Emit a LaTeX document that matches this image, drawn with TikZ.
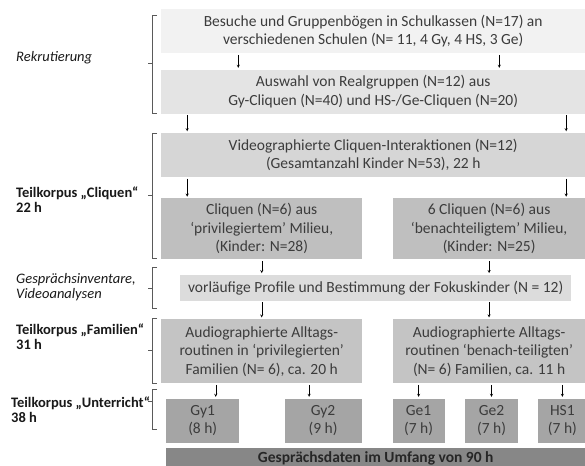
\documentclass[tikz,border=0pt]{standalone}
\usepackage{fontspec}
\setmainfont{Carlito}
\usepackage{tikz}
\usetikzlibrary{arrows, positioning, calc}
\definecolor{shadeA}{RGB}{242, 242, 242}
\definecolor{shadeB}{RGB}{228, 228, 228}
\definecolor{shadeC}{RGB}{214, 214, 214}
\definecolor{shadeD}{RGB}{191, 191, 191}
\definecolor{shadeE}{RGB}{220, 220, 220}
\definecolor{shadeF}{RGB}{196, 196, 196}
\definecolor{shadeG}{RGB}{165, 165, 165}
\definecolor{shadeH}{RGB}{135, 135, 135}
\definecolor{textgray}{RGB}{60, 60, 60}
\definecolor{bracegray}{RGB}{90, 90, 90}

\begin{document}
\begin{tikzpicture}[
        x=1pt, y=1pt,
        box/.style={rectangle, draw=none, inner sep=0pt, align=center, text=textgray, font=\fontsize{15.5}{18.5}\selectfont},
        widebox/.style={box, minimum width=424pt, minimum height=44pt},
        halfbox/.style={box, minimum width=201pt, minimum height=61pt},
        smallbox/.style={box, fill=shadeG, minimum height=44pt},
        sidelabel/.style={anchor=west, align=left, inner sep=0pt, text=black!90, font=\fontsize{14.5}{15}\selectfont},
        brace/.style={draw=bracegray, line width=0.8pt},
        arrow/.style={->, >=stealth, thin, shorten <=1.5pt, shorten >=1.5pt}
    ]
        \useasboundingbox (0,0) rectangle (585,465);

        % Rekrutierung
        \node[widebox, fill=shadeA, anchor=north west] (besuche) at (161,456) {Besuche und Gruppenbögen in Schulkassen (N=17) an\\verschiedenen Schulen (N= 11, 4 Gy, 4 HS, 3 Ge)};
        \node[widebox, fill=shadeB, below=16pt of besuche.south west, anchor=north west] (auswahl) {Auswahl von Realgruppen (N=12) aus\\Gy-Cliquen (N=40) und HS-/Ge-Cliquen (N=20)};

        % Cliquen
        \node[widebox, fill=shadeC, below=19pt of auswahl.south west, anchor=north west] (video) {Videographierte Cliquen-Interaktionen (N=12)\\(Gesamtanzahl Kinder N=53), 22 h};
        \node[halfbox, fill=shadeD, below=21pt of video.south west, anchor=north west] (cliq1) {Cliquen (N=6) aus\\‘privilegiertem’ Milieu,\\(Kinder: N=28)};
        \node[halfbox, fill=shadeD, minimum width=193pt, right=30pt of cliq1] (cliq2) {6 Cliquen (N=6) aus\\‘benachteiligtem’ Milieu,\\(Kinder: N=25)};

        % Profile
        \node[box, fill=shadeE, minimum width=391pt, minimum height=26pt, below=15pt of cliq1.south west, anchor=north west, xshift=19pt] (fokus) {vorläufige Profile und Bestimmung der Fokuskinder (N = 12)};

        % Familien
        \node[halfbox, fill=shadeF, minimum height=64pt, anchor=north west] (fam1) at ([yshift=-18pt]fokus.south -| cliq1.west) {Audiographierte Alltags-\\routinen in ‘privilegierten’\\Familien (N= 6), ca. 20 h};
        \node[halfbox, fill=shadeF, minimum height=64pt, minimum width=193pt, right=30pt of fam1] (fam2) {Audiographierte Alltags-\\routinen ‘benach-teiligten’\\(N= 6) Familien, ca. 11 h};

        % Unterricht
        \node[smallbox, minimum width=73pt, below=15pt of fam1.south west, anchor=north west, xshift=5pt] (gy1) {Gy1\\(8 h)};
        \node[smallbox, minimum width=77pt, right=45pt of gy1] (gy2) {Gy2\\(9 h)};
        \node[smallbox, minimum width=52pt, below=15pt of fam2.south west, anchor=north west] (ge1) {Ge1\\(7 h)};
        \node[smallbox, minimum width=53pt, right=20pt of ge1] (ge2) {Ge2\\(7 h)};
        \node[smallbox, minimum width=48pt, right=20pt of ge2] (hs1) {HS1\\(7 h)};
        \node[box, fill=shadeH, text=black!85, minimum width=419pt, minimum height=20pt, below=5pt of gy1.south west, anchor=north west] (gesamt) {\bfseries Gesprächsdaten im Umfang von 90 h};

        % labels left
        \node[sidelabel] (rekr) at (16,407) {\itshape Rekrutierung};
        \node[sidelabel] (tkcliq) at (16,265) {\bfseries Teilkorpus „Cliquen“\\\bfseries 22 h};
        \node[sidelabel] (inventar) at (16,178) {\itshape Gesprächsinventare,\\\itshape Videoanalysen};
        \node[sidelabel] (tkfam) at (16,128) {\bfseries Teilkorpus „Familien“\\\bfseries 31 h};
        \node[sidelabel] (tkunt) at (11,55) {\bfseries Teilkorpus „Unterricht“\\\bfseries 38 h};

        % brackets
        \foreach \top/\bot/\tip in {15/113/63, 133/258/195, 267/308/288, 318/383/350, 389/429/401}
            \draw[brace] (157,{465-\top}) -- (152,{465-\top}) -- (152,{465-\bot}) -- (157,{465-\bot})
                (152,{465-\tip}) -- (148,{465-\tip});

        % arrows
        \draw[arrow] ([xshift=-135pt]besuche.south) -- ([xshift=-135pt]auswahl.north);
        \draw[arrow] ([xshift=126pt]besuche.south) -- ([xshift=126pt]auswahl.north);
        \draw[arrow] ([xshift=-186pt]auswahl.south) -- ([xshift=-186pt]video.north);
        \draw[arrow] ([xshift=193pt]auswahl.south) -- ([xshift=193pt]video.north);
        \draw[arrow] ([xshift=-186pt]video.south) -- ([xshift=-186pt]video.south |- cliq1.north);
        \draw[arrow] ([xshift=193pt]video.south) -- ([xshift=193pt]video.south |- cliq2.north);
        \draw[arrow] (cliq1.south) -- (cliq1.south |- fokus.north);
        \draw[arrow] (cliq2.south) -- (cliq2.south |- fokus.north);
        \draw[arrow] (fam1.north |- fokus.south) -- (fam1.north);
        \draw[arrow] (fam2.north |- fokus.south) -- (fam2.north);
        \draw[arrow] ([xshift=13pt]gy1.north |- fam1.south) -- ([xshift=13pt]gy1.north);
        \draw[arrow] ([xshift=-14pt]gy2.north |- fam1.south) -- ([xshift=-14pt]gy2.north);
        \draw[arrow] (ge1.north |- fam2.south) -- (ge1.north);
        \draw[arrow] (ge2.north |- fam2.south) -- (ge2.north);
        \draw[arrow] (hs1.north |- fam2.south) -- (hs1.north);
    \end{tikzpicture}
\end{document}
